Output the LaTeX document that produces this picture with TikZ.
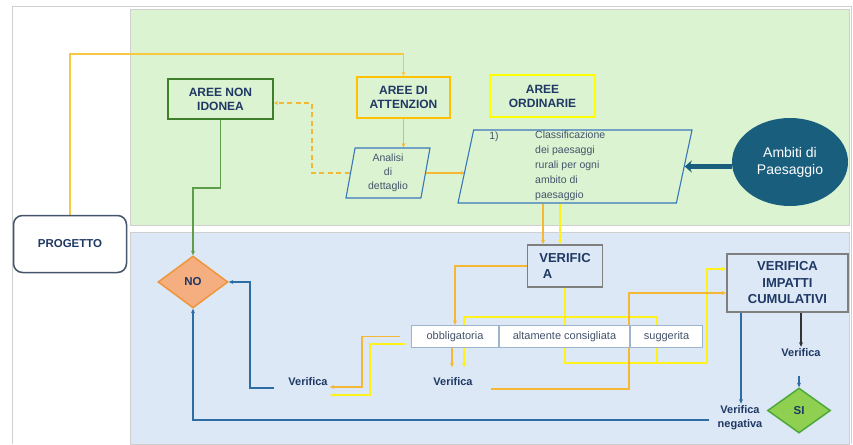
\documentclass[tikz,border=0pt]{standalone}
\usepackage{fontspec}
\setmainfont{Liberation Sans}
\usetikzlibrary{arrows.meta,shapes.geometric}

\definecolor{navy}{HTML}{1F3864}
\definecolor{slate}{HTML}{44546A}
\definecolor{greenbg}{HTML}{DCF3D2}
\definecolor{bluebg}{HTML}{DCE8F5}
\definecolor{framegray}{HTML}{CFCFCF}
\definecolor{nongreen}{HTML}{3F7F2A}
\definecolor{linegreen}{HTML}{5E9E4A}
\definecolor{attorange}{HTML}{FFC000}
\definecolor{ordyellow}{HTML}{FFFF00}
\definecolor{goldline}{HTML}{F7C842}
\definecolor{orangeline}{HTML}{F5B835}
\definecolor{yellowline}{HTML}{FFF21A}
\definecolor{blueline}{HTML}{2E6CA4}
\definecolor{parablue}{HTML}{3878B8}
\definecolor{boxgray}{HTML}{7F7F7F}
\definecolor{optborder}{HTML}{9DB4CC}
\definecolor{nofill}{HTML}{F4AE80}
\definecolor{noorange}{HTML}{F0963A}
\definecolor{sifill}{HTML}{8FD050}
\definecolor{sigreen}{HTML}{4EA83A}
\definecolor{ambitofill}{HTML}{1A5E7E}

\pgfdeclarelayer{panel}
\pgfdeclarelayer{lines}
\pgfsetlayers{panel,lines,main}

\tikzset{
  head/.style={draw, line width=1.8pt, fill=none, text=navy, align=center,
    font=\bfseries\fontsize{12}{14}\selectfont, inner sep=0pt},
  progbox/.style={draw=slate, line width=1.5pt, fill=white, rounded corners=9pt,
    minimum width=113pt, minimum height=57pt, text=navy,
    font=\bfseries\fontsize{11.5}{13}\selectfont},
  para/.style={draw=parablue, line width=1.1pt, trapezium, trapezium stretches body,
    inner sep=0pt, text=slate, align=center, font=\fontsize{10.5}{14}\selectfont},
  smalltext/.style={inner sep=0pt, text=slate, font=\fontsize{10.5}{14.8}\selectfont},
  ambito/.style={ellipse, fill=ambitofill, text=white, align=center, inner sep=0pt,
    minimum width=116pt, minimum height=88pt, font=\fontsize{14}{17}\selectfont},
  graybox/.style={draw=boxgray, line width=1.8pt, fill=bluebg, text=navy,
    inner sep=0pt, font=\bfseries\fontsize{13}{16.5}\selectfont},
  optbox/.style={draw=optborder, line width=1.2pt, fill=white, text=slate,
    minimum height=22pt, inner sep=0pt, font=\fontsize{11}{13}\selectfont},
  esito/.style={diamond, line width=1.5pt, inner sep=0pt, text=navy,
    font=\bfseries\fontsize{11.5}{13}\selectfont},
  vtext/.style={inner sep=2pt, text=navy, align=center,
    font=\bfseries\fontsize{11}{14}\selectfont},
  goldln/.style={draw=goldline, line width=1.4pt},
  orangeln/.style={draw=orangeline, line width=1.4pt},
  yellowln/.style={draw=yellowline, line width=1.4pt},
  greenln/.style={draw=linegreen, line width=1.4pt},
  blueln/.style={draw=blueline, line width=1.2pt},
  blackln/.style={draw=black!80, line width=1.2pt},
  ambarrow/.style={draw=ambitofill, line width=5pt, -{Stealth[length=7pt,width=12pt]}}
}

\begin{document}
\begin{tikzpicture}[x=1pt,y=-1pt,>={Stealth[length=4.5pt,width=4pt]}]
\useasboundingbox (0,0) rectangle (853,444);

% panels
\begin{pgfonlayer}{panel}
  \draw[framegray, line width=1pt] (12,444) -- (12,7) -- (851,7) -- (851,444);
  \draw[framegray, fill=greenbg] (130,9) rectangle (849,225);
  \draw[framegray, fill=bluebg] (130,232) rectangle (849,444);
\end{pgfonlayer}

% upper part
\node[progbox] (progetto) at (70,244) {PROGETTO};
\node[head, draw=nongreen, minimum width=105pt, minimum height=40pt] (nonidonea) at (220.5,99) {AREE NON\\IDONEA};
\node[head, draw=attorange, minimum width=93pt, minimum height=41pt] (attenzion) at (403.5,97.5) {AREE DI\\ATTENZION};
\node[head, draw=ordyellow, minimum width=105pt, minimum height=42pt] (ordinarie) at (542.5,96) {AREE\\ORDINARIE};

\node[para, minimum width=84pt, minimum height=50pt,
  trapezium left angle=76.5, trapezium right angle=103.5] (analisi) at (388,173) {Analisi\\di\\dettaglio};
\node[para, minimum width=234pt, minimum height=73pt,
  trapezium left angle=75.4, trapezium right angle=104.6] (classif) at (575,166.5) {\rule{0pt}{60pt}};
\node[smalltext, anchor=north west, align=left] (classtxt) at (535,131) {Classificazione\\dei paesaggi\\rurali per ogni\\ambito di\\paesaggio};
\node[smalltext] (num) at (494,137) {1)};
\node[ambito] (ambiti) at (790,162) {Ambiti di\\Paesaggio};

% lower part
\node[graybox, minimum width=75pt, minimum height=42pt, align=left] (verifica) at (565,266) {VERIFIC\\\ A};
\node[graybox, minimum width=121pt, minimum height=58pt, align=center] (impatti) at (787.5,283) {VERIFICA\\IMPATTI\\CUMULATIVI};

\node[optbox, minimum width=87pt] (obbl) at (455,336.5) {obbligatoria};
\node[optbox, minimum width=130pt] (altam) at (564.5,336.5) {altamente consigliata};
\node[optbox, minimum width=72pt] (sugg) at (666.5,336.5) {suggerita};

\node[esito, fill=nofill, draw=noorange, minimum width=70pt, minimum height=52pt] (no) at (193,282) {NO};
\node[esito, fill=sifill, draw=sigreen, minimum width=63pt, minimum height=45pt] (si) at (799,410.5) {SI};

\node[vtext] (verL) at (308,382) {Verifica};
\node[vtext, minimum height=29pt] (verM) at (453,382) {Verifica};
\node[vtext] (verR) at (801,353) {Verifica};
\node[vtext] (verNeg) at (740,418) {Verifica\\negativa};

\coordinate (yjoin) at (657,363);

% connectors
\begin{pgfonlayer}{lines}
  \draw[goldln,->] (progetto.north) |- (attenzion.north |- 0,54) -- (attenzion.north);
  \draw[orangeln,->] (attenzion.south) -- (attenzion.south |- analisi.north);
  \draw[orangeln,dash pattern=on 5pt off 3.5pt,->] (analisi.west) -| (312,103) -- ([yshift=-4pt]nonidonea.east);
  \draw[orangeln,->] (analisi.east) -- (analisi.east -| classif.west);
  \draw[ambarrow] (ambiti.west |- classif.east) -- (classif.east);
  \draw[greenln,->] (nonidonea.south) |- (193,188) -- (no.north);

  \draw[orangeln,->] (classif.south -| 543,0) -- (verifica.north -| 543,0);
  \draw[yellowln,->] (classif.south -| 560,0) -- (verifica.north -| 560,0);
  \draw[orangeln,->] (verifica.west) -| (obbl.north);
  \draw[orangeln,->] (obbl.south -| 452,0) -- (verM.north -| 452,0);
  \draw[yellowln,->] (verifica.south) -- (verifica.south |- 0,363) -| (707,269) -- (impatti.west |- 0,269);
  \draw[yellowln,->] (yjoin) |- (464,317) -- (verM.north -| 464,0);
  \draw[orangeln,->] ([shift={(16,7)}]verM.east) -| (629,293) -- (impatti.west |- 0,293);

  \draw[orangeln,->] ([xshift=-11pt]obbl.west) -| (362,387) -- (verL.east |- 0,387);
  \draw[yellowln,->] ([shift={(-5,7.5)}]obbl.west) -| (370,395) -- (verL.east |- 0,395);
  \draw[blueln,->] ([shift={(-12,6)}]verL.west) -| (250,282) -- (no.east);
  \draw[blueln,->] ([shift={(-6,2)}]verNeg.west) -| (no.south);

  \draw[blueln,->] (impatti.south -| 741,0) -- (verNeg.north -| 741,0);
  \draw[blackln,->] (impatti.south -| verR.north) -- (verR.north);
  \draw[blueln,->] ([yshift=11pt]si.north) -- (si.north);
\end{pgfonlayer}
\end{tikzpicture}
\end{document}
